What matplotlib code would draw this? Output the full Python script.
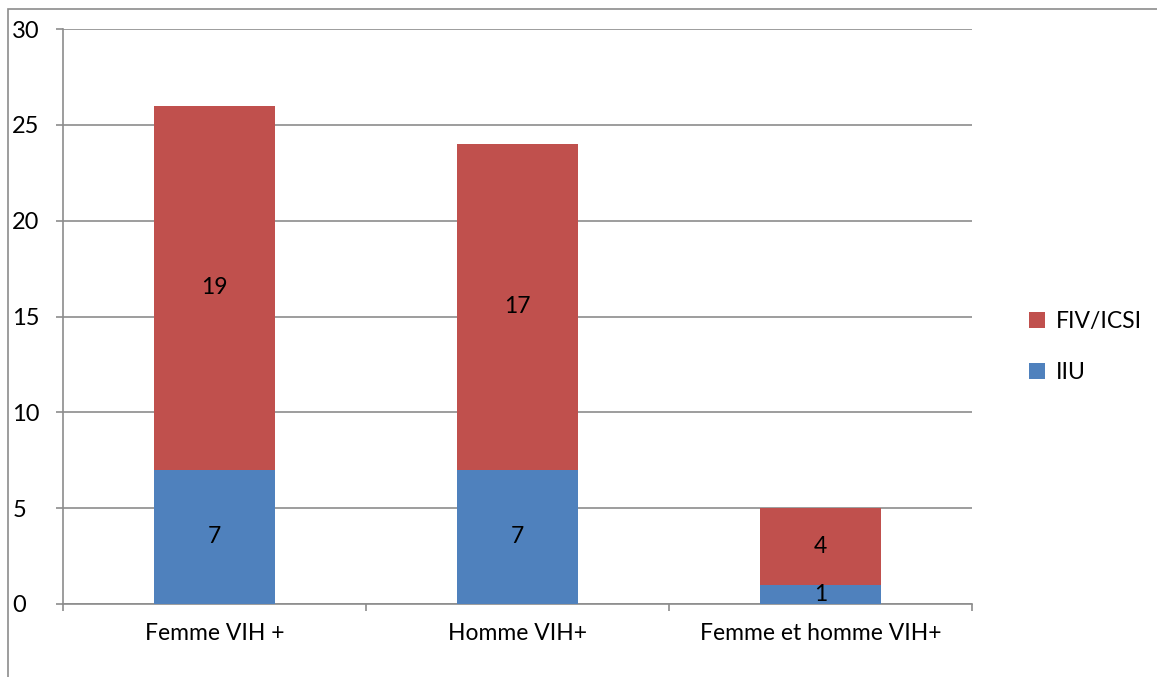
import matplotlib.pyplot as plt
from matplotlib.patches import Rectangle
import numpy as np

categories = ['Femme VIH +', 'Homme VIH+', 'Femme et homme VIH+']
iiu = [7, 7, 1]
fiv_icsi = [19, 17, 4]
y_ticks = [0, 5, 10, 15, 20, 25, 30]

plt.rcParams['font.family'] = ['Lato', 'DejaVu Sans']
fs = 16.5

fig = plt.figure(figsize=(11.57, 6.77), dpi=100)
# outer chart frame (only left and top edges are visible in the crop)
fig.add_artist(Rectangle((8 / 1157, -0.1), 1.2, 1 - 9 / 677 + 0.1, transform=fig.transFigure,
                         fill=False, edgecolor='#8c8c8c', linewidth=1.2))

ax = fig.add_axes([63 / 1157, 73 / 677, 909 / 1157, 575 / 677])
x = np.arange(len(categories))
blue = '#4F81BD'
red = '#C0504D'
ax.bar(x, iiu, width=0.4, color=blue, label='IIU', zorder=3)
ax.bar(x, fiv_icsi, width=0.4, bottom=iiu, color=red, label='FIV/ICSI', zorder=3)

for i in range(len(categories)):
    ax.text(x[i], iiu[i] / 2, str(iiu[i]), ha='center', va='center', fontsize=fs, zorder=4)
    ax.text(x[i], iiu[i] + fiv_icsi[i] / 2, str(fiv_icsi[i]), ha='center', va='center', fontsize=fs, zorder=4)

ax.set_xlim(-0.5, len(categories) - 0.5)
ax.set_ylim(0, 30)
ax.set_yticks(y_ticks)
ax.set_yticklabels([str(v) for v in y_ticks], fontsize=fs + 0.5, ha='left')
ax.yaxis.grid(True, color='#8c8c8c', linewidth=1.2, zorder=0)
ax.tick_params(axis='y', length=5, color='#8c8c8c', width=1.2, pad=31.5)

ax.set_xticks(x)
ax.set_xticklabels(categories, fontsize=fs)
ax.tick_params(axis='x', length=0, pad=14)
ax.set_xticks(np.arange(len(categories) + 1) - 0.5, minor=True)
ax.tick_params(axis='x', which='minor', length=5, color='#8c8c8c', width=1.2)

for s in ['top', 'right']:
    ax.spines[s].set_visible(False)
for s in ['left', 'bottom']:
    ax.spines[s].set_color('#8c8c8c')
    ax.spines[s].set_linewidth(1.2)

handles, labels = ax.get_legend_handles_labels()
leg = fig.legend(handles[::-1], labels[::-1], loc='center left', bbox_to_anchor=(1020 / 1157, 1 - 347 / 677),
                 frameon=False, fontsize=fs, handlelength=0.7, handleheight=0.7, labelspacing=1.3,
                 handletextpad=0.45, borderaxespad=0)

fig.savefig('out.png', dpi=100)
